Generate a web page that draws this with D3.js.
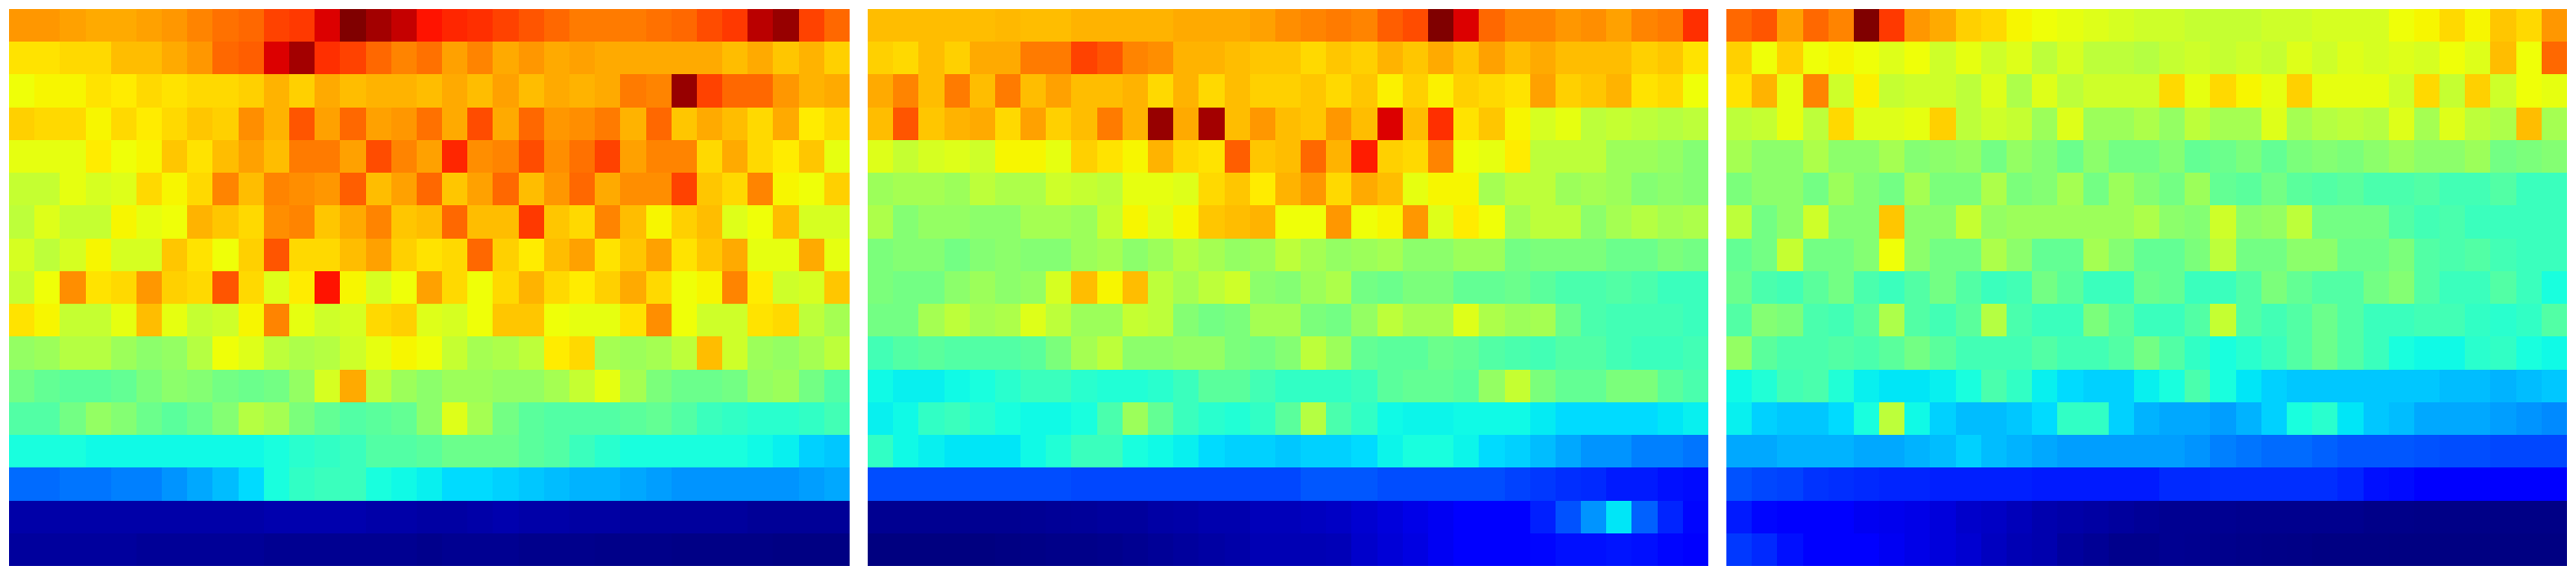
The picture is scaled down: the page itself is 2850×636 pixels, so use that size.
<!DOCTYPE html>
<html><head><meta charset="utf-8">
<script src="https://cdn.jsdelivr.net/npm/d3@7"></script>
<style>html,body{margin:0;padding:0;background:#fff;overflow:hidden}svg{display:block}</style>
</head><body>
<svg id="chart" width="2850" height="636"></svg>
<script>
// Each row is a sensor-depth level, each column a time step; values are on a 0-100 scale.
const panelA = [
[75,75,74,73,73,74,75,77,79,80,84,85,92,100,97,94,89,87,86,84,82,80,78,78,78,79,80,83,85,95,98,84,80],
[67,67,68,68,71,71,73,75,80,81,92,97,86,84,80,77,79,74,77,73,75,73,74,73,73,73,73,73,71,73,70,72,69],
[64,65,65,67,66,68,67,68,68,69,72,69,73,71,72,72,71,73,71,74,71,73,72,73,78,77,98,84,80,80,75,72,73],
[69,68,68,65,68,66,68,70,69,76,72,82,74,80,74,75,79,73,83,73,80,75,76,78,72,80,70,73,71,68,73,66,68],
[63,63,63,66,64,65,70,67,71,74,71,78,78,74,83,77,74,87,76,77,83,76,79,84,74,77,77,68,73,68,66,70,63],
[59,59,63,61,62,68,65,68,77,71,77,76,75,81,71,74,80,70,74,80,71,75,80,73,76,76,84,70,68,77,65,64,69],
[58,62,59,59,65,63,64,72,70,68,76,77,70,73,77,70,71,80,71,71,85,70,68,77,71,65,69,71,62,64,71,61,61],
[61,58,61,65,61,61,70,67,64,69,82,68,68,71,74,69,67,68,80,69,66,71,74,67,70,74,67,70,73,63,63,73,63],
[59,64,76,67,68,75,69,68,82,68,62,66,89,65,61,64,74,68,64,68,72,68,66,69,73,68,64,65,77,66,60,61,70],
[67,65,59,59,63,71,63,59,60,65,77,63,60,61,68,69,62,61,64,70,70,64,63,63,67,76,64,60,60,67,68,58,55],
[53,54,57,57,54,52,53,57,64,62,58,56,57,60,63,65,64,59,55,56,58,66,68,55,54,55,58,71,60,54,53,55,58],
[49,47,46,46,47,50,52,51,49,48,49,53,61,73,58,54,52,54,54,53,53,55,59,63,55,50,48,48,49,53,54,49,45],
[45,45,49,53,51,48,46,48,51,57,55,50,47,45,46,47,52,62,55,49,46,45,45,45,46,47,45,42,41,40,40,41,43],
[38,38,38,37,37,37,37,37,37,37,38,40,41,42,45,45,46,48,48,48,46,45,42,40,38,38,38,38,38,37,36,33,32],
[23,23,24,24,25,25,27,29,31,34,38,41,42,42,38,37,36,34,34,33,32,31,30,30,29,28,27,27,27,27,27,28,29],
[3.5,3.5,3.5,3.5,3.5,3.5,3.5,3.5,3.5,3.5,4,4,4,4,3.5,3.5,3,3,3.5,4,3.5,3.5,3,3,2.5,2.5,2.5,2.5,2.5,2,2,2,2],
[2.5,2.5,2.5,2.5,2.5,2,2,2,2,2,1.5,1.5,1.5,1.5,1.5,1.5,1,1.5,1.5,1.5,1,1,1,0.8,0.8,0.8,0.5,0.5,0.5,0.5,0.3,0.3,0.3]
];
const panelB = [
[71,71,71,71,71,71.5,71,71,72,72,72,72,73,73,73,74,76,77,78,77,81,83,100,92,80,77,77,75,76,74,77,78,86],
[69,68,71,69,73,73,78,78,84,82,77,76,72,72,71,70,70,68,70,69,72,70,73,70,74,71,73,71,71,71,69,70,67],
[73,77,71,78,71,78,71,74,71,71,72,68,72,68,71,69,69,70,68,70,65.5,69,65.5,69,68,67,74,69,70,72,67,68,64],
[71,82,70,72,73,68,74,69,71,78,72,98,73,97,71,75,71,70,75,71,92,71,86,67,70,65,61,63,58,59,58,57,58],
[62,59,61,62,60,65,65,63,69,67,65,72,68,67,81,70,71,80,72,88,69,68,77,64,63,66,58,58,58,54,54,53,51],
[54,55,55,54,58,56,56,60,59,58,63,63,62,68,70,66,72,75,68,73,71,63,65,65,55,58,58,54,55,54,51,52,51],
[56,51,53,53,52,52,55,55,54,59,65,62,65,70,71,72,64,64,75,64,65,75,62,66,64,55,58,58,52,55,57,55,56],
[50,51,51,49,51,52,51,51,54,55,52,54,57,55,53,54,58,55,53,54,55,52,52,54,54,49,50,50,50,48,48,50,49],
[50,49,49,52,54,52,53,61,71,65,71,58,55,58,60,52,51,54,56,49,48,50,50,47,47,48,46,44,44,45,44,42,42],
[49,49,55,58,55,56,62,58,54,54,59,58,51,49,50,55,55,50,49,53,58,55,55,62,56,54,55,48,44,43,43,43,42],
[43,45,46,45,45,45,46,50,55,58,52,52,53,53,50,49,51,58,54,47,46,46,48,47,45,44,43,45,45,43,42,42,43],
[37,36,36,37,38,40,42,42,40,39,39,40,42,46,46,43,41,41,41,42,46,47,47,46,53,59,50,47,47,50,50,46,44],
[36,37,41,42,40,38,37,37,38,44,54,47,42,40,39,41,46,57,44,41,37,36.5,36.5,37,37,37,35.5,34,34,34,34,35,36],
[41,37,36,35,35,35,37,39,42,42,38,37,36,34,33,33,32,33,33,34,36.5,38,38,36.5,34,33,31,29,27,27,25,25,24],
[20,20,20,20,20,20,20,20,19.5,19.5,19.5,19.5,19.5,19.5,19.5,19.5,19.5,21,21,21,20,20,20,20,20,19,18,17,16.5,15,15,14,13.5],
[1.5,1.5,1.5,1.5,1.5,1.5,1.7,2,2.2,2.5,2.5,3.2,3.5,4,4,5,5,5.5,6,7,8,9,10,12,12,12.5,15.5,20.5,27,35,22,16,13],
[0,0,0,0,0,0.3,0.5,0.8,0.8,1,1.5,2,2.5,3,3.5,4.5,4.5,4.5,4.8,6.5,7.5,8.5,10,12,12,12,13,14,14,14.5,14,13,12]
];
const panelC = [
[80,82,74,80,77,100,85,75,73,69,68,65,64,63,62,61,60,60,59,59,59,60,60,61,61,61,64,65,68,65,70,68,75],
[69,64,69,64,65,64,62,64,60,63,60,62,58,61,58,58,57,59,60,59,60,59,62,60,62,61,62,61,64,62,71,64,80],
[67,72,63,77,60,65.5,59,60,60,58,62,56,62,58,60,60,60,68,63,68,65,63,69,63,63,63,60,68,59,69,60,64,63],
[58,59,63,58,68,62,62,63,69,58,60,59,54,62,54,54,56,53,58,55,55,62,55,57,58,57,62,55,62,58,56,71,55],
[55,52,52,56,52,52,55,51,52,53,49,53,51,48,52,49,49,51,47,48,50,47,50,51,50,52,54,52,52,54,49,50,51],
[50,52,52,49,54,51,49,55,50,50,56,50,51,55,49,54,51,49,54,47,46,49,46,45,46,44,44,45,43,43,45,42,42],
[58,49,52,60,51,51,70,52,52,59,53,54,54,54,54,54,56,52,51,60,52,53,58,49,49,49,45,43,44,42,42,42,42],
[47,49,59,49,49,51,64,52,49,49,56,52,47,47,55,51,47,47,50,58,49,49,52,52,48,48,50,45,44,45,43,42,42],
[48,44,43,46,49,44,42,45,49,45,42,43,49,46,42,42,48,47,42,42,45,50,47,45,45,49,51,45,42,42,45,42,38],
[45,51,50,44,43,46,56,45,43,46,57,44,42,42,50,46,42,42,45,59,45,43,45,48,45,42,42,43,43,41,40,41,45],
[53,46,44,44,45,44,46,49,46,43,43,43,45,43,43,45,49,45,41,38,40,42,45,48,45,42,38,37,37,40,41,38,37],
[37,39,43,44,39,36,35,35,36,38,44,41,36,34,33,33,36,38,44,38,35,33,32,32,32,32,32,32,31,31,30,31,32],
[36,33,32,32,34,38,58,37,33,31,31,32,34,41,41,33,30,29,29,28,30,33,38,40,35,32,31,29,29,29,28,27,26],
[29,29,30,30,30,29,29,30,31,33,31,30,29,28,28,28,28,28,27,25,24,23,23,22,21,21,21,20.5,20,20,19.5,19.5,19.5],
[20.5,19.5,19,17.5,17,16.5,16,16,15.5,15.5,15.5,15.5,15,15,15,15,15,16.5,16.5,17,17,17,17,17,16,14,13.5,12,11.5,11.5,11.5,11.5,11.5],
[15,13,12.5,11.5,11,10,9.5,9,8,6.5,6,5,4,3.5,3,2.5,2,1.5,1.5,1.5,1.2,1.2,1.2,1.2,1.2,0.8,0.8,0.6,0.6,0.6,0.5,0.5,0.5],
[18,16.5,14,12,11.5,11,10,9,8,7,5.5,4.5,4,2.5,1.8,1,1,1.5,1.3,1,0.8,0.6,0.5,0.3,0.3,0.3,0.2,0.2,0.2,0.2,0.2,0.2,0.2]
];
const panels = [panelA, panelB, panelC];

// jet colormap built from d3 scales (channel stops on the 0-100 value axis)
const red   = d3.scaleLinear().domain([0,35,66,89,100]).range([0,0,255,255,128]).clamp(true);
const green = d3.scaleLinear().domain([0,12.5,37.5,64,91,100]).range([0,0,255,255,0,0]).clamp(true);
const blue  = d3.scaleLinear().domain([0,11,34,65,100]).range([128,255,255,0,0]).clamp(true);
const jet = v => d3.rgb(red(v), green(v), blue(v)).formatHex();

const panelX = d3.scaleBand().domain(d3.range(panels.length)).range([0,2850]).paddingInner(20/950).paddingOuter(10/950);
const y = d3.scaleBand().domain(d3.range(panelA.length)).range([10,626]);

const svg = d3.select('#chart');
svg.append('rect').attr('width',2850).attr('height',636).attr('fill','#fff');

panels.forEach((rows,p)=>{
  const x0 = panelX(p);
  const x = d3.scaleBand().domain(d3.range(rows[0].length)).range([x0, x0+panelX.bandwidth()]);
  const cells = rows.flatMap((r,i)=>r.map((v,j)=>({i,j,v})));
  svg.append('g').selectAll('rect').data(cells).join('rect')
    .attr('x',d=>x(d.j)).attr('y',d=>y(d.i))
    .attr('width',x.bandwidth()).attr('height',y.bandwidth())
    .attr('fill',d=>jet(d.v))
    .attr('shape-rendering','crispEdges');
});
</script>
</body></html>
